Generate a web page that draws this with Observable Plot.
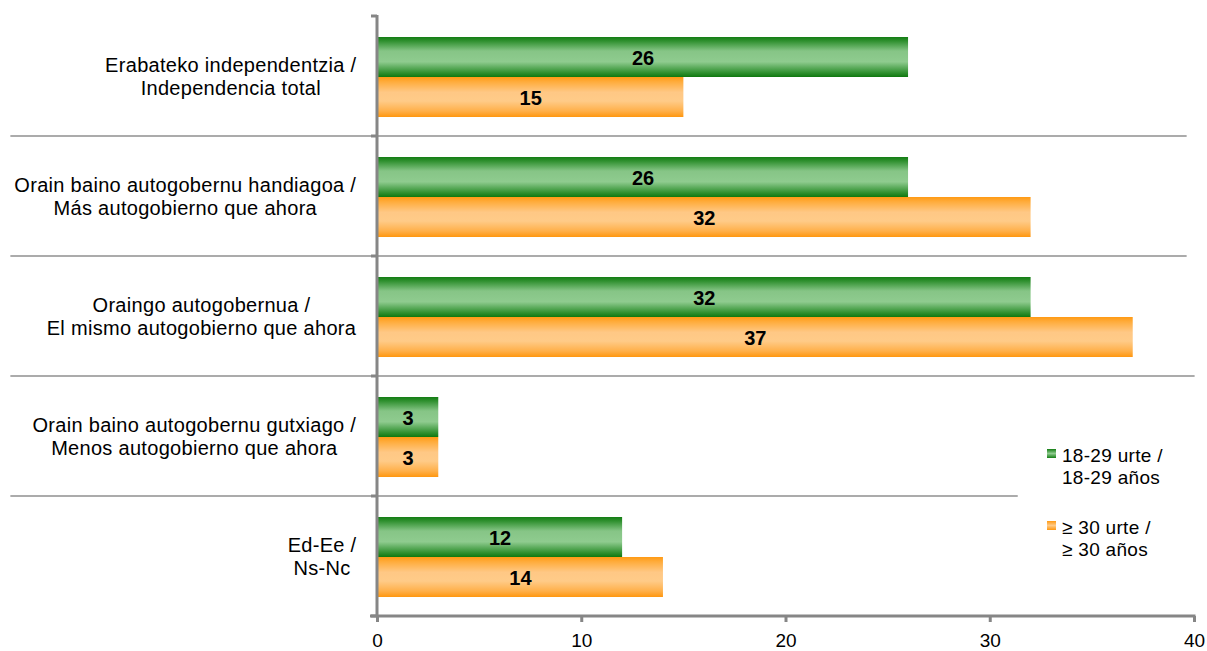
<!DOCTYPE html>
<html><head><meta charset="utf-8">
<script src="https://cdn.jsdelivr.net/npm/d3@7"></script>
<script src="https://cdn.jsdelivr.net/npm/@observablehq/plot@0.6"></script>
<style>
body{margin:0;background:#fff;font-family:Arial,"Liberation Sans",sans-serif;}
#wrap{position:relative;width:1207px;height:651px;overflow:hidden;}
.legend{position:absolute;left:1047px;font-size:19px;line-height:22px;color:#000;letter-spacing:0.3px;}
.legend .sw{position:absolute;left:0;top:4px;width:9px;height:9px;}
.legend .tx{position:absolute;left:15px;top:0;white-space:pre;}
</style></head><body><div id="wrap"></div>
<script>
const categories = [
  "Erabateko independentzia /\nIndependencia total",
  "Orain baino autogobernu handiagoa /\nMás autogobierno que ahora",
  "Oraingo autogobernua /\nEl mismo autogobierno que ahora",
  "Orain baino autogobernu gutxiago /\nMenos autogobierno que ahora",
  "Ed-Ee /\nNs-Nc"
];
const series = ["18-29 urte /\n18-29 años", "≥ 30 urte /\n≥ 30 años"];
const young = [26, 26, 32, 3, 12];
const older = [15, 32, 37, 3, 14];
const xTicks = [0, 10, 20, 30, 40];

const rows = categories.flatMap((c, i) => [
  {category: c, series: series[0], value: young[i]},
  {category: c, series: series[1], value: older[i]}
]);
const youngRows = rows.filter(d => d.series === series[0]);
const olderRows = rows.filter(d => d.series === series[1]);

// decorative separator right ends (in x units) and left end
const sepLeft = -17.95;
const sepRight = [39.64, 39.64, 40.03, 31.37];

function gradients() {
  const g = d3.create("svg:g");
  const defs = g.append("defs");
  const gr = defs.append("linearGradient").attr("id", "gGreen").attr("x1", 0).attr("y1", 0).attr("x2", 0).attr("y2", 1);
  [[0, "#137d13"], [0.1, "#2f902f"], [0.35, "#86c586"], [0.62, "#8fcb8f"], [0.88, "#349334"], [1, "#0f780f"]]
    .forEach(([o, c]) => gr.append("stop").attr("offset", o).attr("stop-color", c));
  const go = defs.append("linearGradient").attr("id", "gOrange").attr("x1", 0).attr("y1", 0).attr("x2", 0).attr("y2", 1);
  [[0, "#ff9a14"], [0.12, "#ffac3c"], [0.38, "#ffc885"], [0.6, "#ffcb88"], [0.85, "#ffb04a"], [1, "#ff970f"]]
    .forEach(([o, c]) => go.append("stop").attr("offset", o).attr("stop-color", c));
  return g.node();
}

function decor(index, scales, values, dims) {
  const {x, y} = scales;
  const g = d3.create("svg:g");
  const x0 = x(0);
  const top = dims.marginTop, bottom = dims.height - dims.marginBottom;
  const starts = categories.map(c => y(c));
  starts.slice(1).forEach((yy, i) => {
    g.append("line").attr("x1", x(sepLeft)).attr("x2", x(sepRight[i]))
      .attr("y1", yy).attr("y2", yy).attr("stroke", "#ababab").attr("stroke-width", 2);
  });
  [...starts, bottom].forEach(yy => {
    g.append("line").attr("x1", x0 - 6).attr("x2", x0).attr("y1", yy).attr("y2", yy)
      .attr("stroke", "#868686").attr("stroke-width", 3);
  });
  g.append("line").attr("x1", x0).attr("x2", x0).attr("y1", top).attr("y2", bottom)
    .attr("stroke", "#868686").attr("stroke-width", 3);
  g.append("line").attr("x1", x0 - 7).attr("x2", x(40) + 1.5).attr("y1", bottom).attr("y2", bottom)
    .attr("stroke", "#868686").attr("stroke-width", 3);
  return g.node();
}

const plot = Plot.plot({
  width: 1207,
  height: 651,
  marginLeft: 377,
  marginRight: 13,
  marginTop: 15,
  marginBottom: 35,
  style: {fontFamily: "Arial, 'Liberation Sans', sans-serif", color: "#000", background: "#fff", overflow: "visible"},
  x: {domain: [0, 40], label: null},
  y: {domain: categories, padding: 0, label: null},
  marks: [
    gradients,
    Plot.barX(youngRows, {x: "value", y: "category", fill: "url(#gGreen)", insetTop: 21, insetBottom: 59}),
    Plot.barX(olderRows, {x: "value", y: "category", fill: "url(#gOrange)", insetTop: 61, insetBottom: 19}),
    Plot.text(youngRows, {x: d => d.value / 2, y: "category", text: d => String(d.value), dy: -18, fontSize: 20, fontWeight: "bold", fill: "#000"}),
    Plot.text(olderRows, {x: d => d.value / 2, y: "category", text: d => String(d.value), dy: 22, fontSize: 20, fontWeight: "bold", fill: "#000"}),
    decor,
    Plot.axisX({ticks: xTicks, tickSize: 6, tickPadding: 11, stroke: "#868686", strokeWidth: 3, fontSize: 19, fill: "#000", label: null}),
    Plot.axisY({tickSize: 0, tickPadding: 21, fontSize: 20, lineHeight: 1.13, fill: "#000", label: null})
  ]
});

const wrap = document.getElementById("wrap");
wrap.appendChild(plot);

// center the lines of each category label within its right-aligned block
d3.select(plot).selectAll('[aria-label="y-axis tick label"]').style("letter-spacing", "0.3px");
d3.select(plot).selectAll('[aria-label="y-axis tick label"] text').each(function() {
  const w = this.getBBox().width;
  this.setAttribute("text-anchor", "middle");
  d3.select(this).selectAll("tspan").attr("x", -w / 2);
});

// legend
const legendItems = [
  {label: series[0], top: 445, bg: "linear-gradient(#137d13, #8fcb8f 50%, #137d13)"},
  {label: series[1], top: 517, bg: "linear-gradient(#ff9a14, #ffcb88 50%, #ff970f)"}
];
legendItems.forEach(it => {
  const d = document.createElement("div");
  d.className = "legend";
  d.style.top = it.top + "px";
  d.innerHTML = `<div class="sw" style="background:${it.bg}"></div><div class="tx"></div>`;
  d.querySelector(".tx").textContent = it.label;
  wrap.appendChild(d);
});
</script>
</body></html>
